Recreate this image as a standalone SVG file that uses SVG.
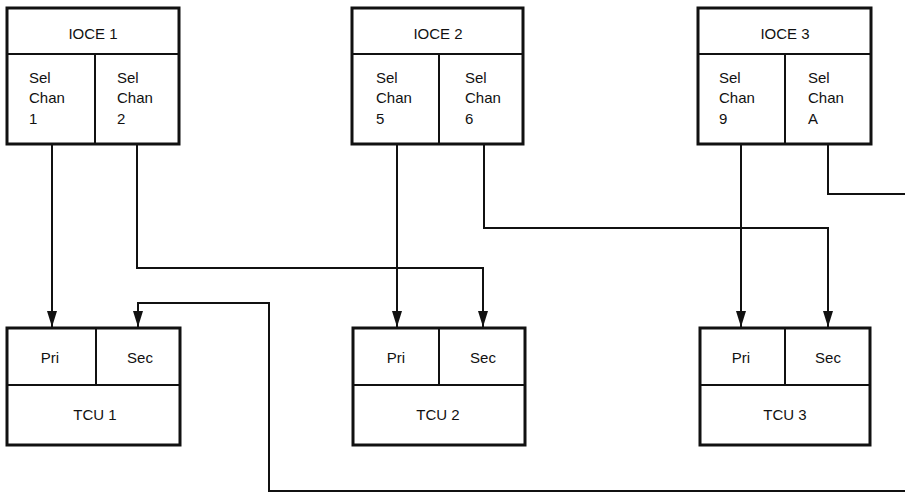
<svg xmlns="http://www.w3.org/2000/svg" width="905" height="493" viewBox="0 0 905 493">
<style>
.box{fill:#fff;stroke:#111;stroke-width:3}
.div{stroke:#111;stroke-width:2;fill:none}
.wire{stroke:#111;stroke-width:2;fill:none}
text{font-family:"Liberation Sans","DejaVu Sans",sans-serif;font-size:15px;fill:#111}
.c{text-anchor:middle}
</style>
<defs>
<marker id="ah" markerWidth="16" markerHeight="10" refX="16" refY="5" orient="auto" markerUnits="userSpaceOnUse" viewBox="0 0 16 10">
<path d="M0,0 L16,5 L0,10 Z" fill="#111"/>
</marker>
</defs>
<g id="connectors">
<path class="wire" d="M52,144 V327" marker-end="url(#ah)"/>
<path class="wire" d="M137,144 V268 H483 V327" marker-end="url(#ah)"/>
<path class="wire" d="M397,144 V327" marker-end="url(#ah)"/>
<path class="wire" d="M484,144 V228 H828 V327" marker-end="url(#ah)"/>
<path class="wire" d="M741,144 V327" marker-end="url(#ah)"/>
<path class="wire" d="M828,144 V194 H905"/>
<path class="wire" d="M905,491 H269 V303 H138 V327" marker-end="url(#ah)"/>
</g>
<g id="ioce1">
<rect class="box" x="7" y="8" width="172" height="136"/>
<path class="div" d="M7,54 H179 M95,54 V144"/>
<text class="c" x="93" y="39">IOCE 1</text>
<text x="29" y="83">Sel</text><text x="29" y="103">Chan</text><text x="29" y="124">1</text>
<text x="117" y="83">Sel</text><text x="117" y="103">Chan</text><text x="117" y="124">2</text>
</g>
<g id="ioce2">
<rect class="box" x="352" y="8" width="171" height="136"/>
<path class="div" d="M352,54 H523 M439,54 V144"/>
<text class="c" x="438" y="39">IOCE 2</text>
<text x="376" y="83">Sel</text><text x="376" y="103">Chan</text><text x="376" y="124">5</text>
<text x="465" y="83">Sel</text><text x="465" y="103">Chan</text><text x="465" y="124">6</text>
</g>
<g id="ioce3">
<rect class="box" x="698" y="8" width="173" height="136"/>
<path class="div" d="M698,54 H871 M785,54 V144"/>
<text class="c" x="785" y="39">IOCE 3</text>
<text x="719" y="83">Sel</text><text x="719" y="103">Chan</text><text x="719" y="124">9</text>
<text x="808" y="83">Sel</text><text x="808" y="103">Chan</text><text x="808" y="124">A</text>
</g>
<g id="tcu1">
<rect class="box" x="7" y="328" width="173" height="117"/>
<path class="div" d="M7,385 H180 M96,328 V385"/>
<text class="c" x="50" y="363">Pri</text>
<text class="c" x="140" y="363">Sec</text>
<text class="c" x="95" y="420">TCU 1</text>
</g>
<g id="tcu2">
<rect class="box" x="353" y="328" width="172" height="117"/>
<path class="div" d="M353,385 H525 M439,328 V385"/>
<text class="c" x="396" y="363">Pri</text>
<text class="c" x="483" y="363">Sec</text>
<text class="c" x="438" y="420">TCU 2</text>
</g>
<g id="tcu3">
<rect class="box" x="700" y="328" width="170" height="117"/>
<path class="div" d="M700,385 H870 M785,328 V385"/>
<text class="c" x="741" y="363">Pri</text>
<text class="c" x="828" y="363">Sec</text>
<text class="c" x="785" y="420">TCU 3</text>
</g>
</svg>
